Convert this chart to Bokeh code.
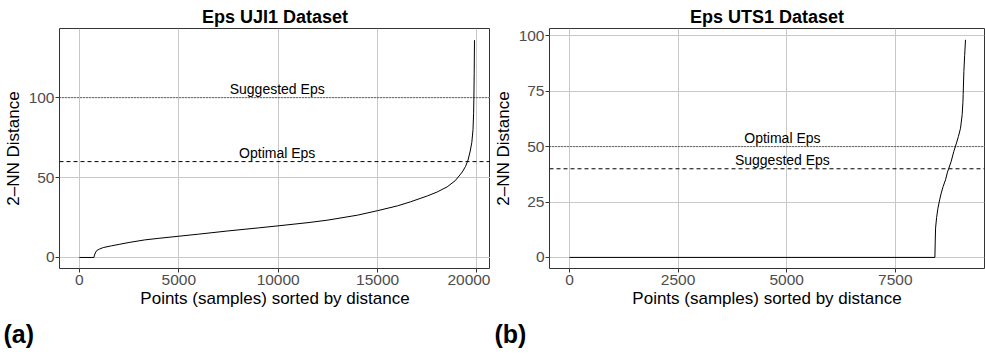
from bokeh.plotting import figure
from bokeh.layouts import row
from bokeh.models import Span, Title, FixedTicker, Range1d, ColumnDataSource
from bokeh.core.properties import value
from bokeh.embed import file_html
from bokeh.resources import INLINE

# ---------------- data ----------------
uji_x = [0, 730, 760, 800, 870, 1000, 1200, 1620, 2000, 2500, 3290, 4000, 5000, 6000,
         7470, 9000, 10000, 11500, 12500, 14000, 15000, 16000, 16650, 17500, 18000,
         18500, 18900, 19100, 19260, 19425, 19550, 19650, 19740, 19800, 19830, 19845,
         19860, 19875]
uji_y = [0, 0, 1.5, 2.8, 4.3, 5.2, 6.2, 7.3, 8.2, 9.4, 11.0, 12.0, 13.3, 14.6,
         16.6, 18.5, 19.8, 21.8, 23.4, 26.5, 29.3, 32.3, 34.8, 38.5, 41.0,
         44.2, 48, 51, 53.5, 57, 61, 66, 72, 80, 90, 100,
         115, 136]

uts_x = [0, 8410, 8418, 8426, 8450, 8480, 8520, 8556, 8600, 8655, 8700, 8732, 8785,
         8845, 8907, 8950, 9000, 9038, 9055, 9061, 9077, 9095, 9115]
uts_y = [0, 0, 7, 13.2, 18, 22.2, 26, 29, 32, 35, 38.5, 40.3, 43.3,
         47.8, 51.6, 54.5, 58.3, 64.4, 70, 73.4, 83.9, 91, 98.2]

uji_eps_names = ["Suggested Eps", "Optimal Eps"]
uji_eps_values = [100, 60]
uji_eps_dash = ["1 2", "4 3"]
uji_label_x = [9950, 9950]

uts_eps_names = ["Optimal Eps", "Suggested Eps"]
uts_eps_values = [50, 40]
uts_eps_dash = ["1 2", "4 3"]
uts_label_x = [4900, 4900]

uji_xticks = [0, 5000, 10000, 15000, 20000]
uji_yticks = [0, 50, 100]
uts_xticks = [0, 2500, 5000, 7500]
uts_yticks = [0, 25, 50, 75, 100]

FONT = "Liberation Sans"
FONT_V = value(FONT)
TAG_FONT = "'Liberation Sans Narrow', 'Liberation Sans', sans-serif"


def make_panel(title, xs, ys, names, values, dashes, label_x, xticks, yticks,
               x_range, y_range, width, tag, border_right, tag_offset):
    p = figure(width=width, height=356, output_backend="svg", toolbar_location=None,
               x_range=Range1d(*x_range), y_range=Range1d(*y_range),
               min_border_left=58, min_border_right=border_right,
               min_border_top=28, min_border_bottom=88)
    p.title.text = title
    p.title.align = "center"
    p.title.text_font = FONT
    p.title.text_font_size = "18px"
    p.title.text_font_style = "bold"
    p.title.text_color = "black"
    p.title.standoff = 4

    p.outline_line_color = "#333333"
    p.outline_line_width = 1
    p.background_fill_color = "white"
    p.border_fill_color = "white"

    p.xgrid.ticker = FixedTicker(ticks=xticks)
    p.ygrid.ticker = FixedTicker(ticks=yticks)
    p.grid.grid_line_color = "#C8C8C8"
    p.grid.grid_line_width = 1

    p.xaxis.ticker = FixedTicker(ticks=xticks)
    p.yaxis.ticker = FixedTicker(ticks=yticks)
    for ax in (p.xaxis[0], p.yaxis[0]):
        ax.axis_line_color = None
        ax.major_tick_line_color = "#333333"
        ax.major_tick_out = 4
        ax.major_tick_in = 0
        ax.minor_tick_line_color = None
        ax.major_label_text_font = FONT
        ax.major_label_text_font_size = "15.5px"
        ax.major_label_text_color = "#4D4D4D"
        ax.axis_label_text_font = FONT
        ax.axis_label_text_font_size = "17px"
        ax.axis_label_text_font_style = "normal"
        ax.axis_label_text_color = "black"
    p.xaxis.major_label_standoff = 2
    p.yaxis.major_label_standoff = 1
    p.xaxis.axis_label = "Points (samples) sorted by distance"
    p.yaxis.axis_label = "2\u2013NN Distance"
    p.xaxis.axis_label_standoff = 1
    p.yaxis.axis_label_standoff = 3

    for v, d in zip(values, dashes):
        p.add_layout(Span(location=v, dimension="width", line_color="black",
                          line_width=1, line_dash=d))

    src = ColumnDataSource(dict(x=label_x, y=values, t=names))
    p.text(x="x", y="y", text="t", source=src, text_align="center",
           text_baseline="middle", y_offset=-9, text_font=FONT_V,
           text_font_size="14px", text_color="black")

    p.line(xs, ys, line_color="black", line_width=1)

    p.add_layout(Title(text=tag, align="left", offset=tag_offset, standoff=15,
                       text_font=TAG_FONT, text_font_size="25px",
                       text_font_style="bold", text_color="black"), "below")
    return p


p1 = make_panel("Eps UJI1 Dataset", uji_x, uji_y, uji_eps_names, uji_eps_values,
                uji_eps_dash, uji_label_x, uji_xticks, uji_yticks,
                (-1000, 20680), (-6.9, 143.3), 490, "(a)", 0, -56)
p2 = make_panel("Eps UTS1 Dataset", uts_x, uts_y, uts_eps_names, uts_eps_values,
                uts_eps_dash, uts_label_x, uts_xticks, uts_yticks,
                (-460, 9552), (-5.0, 103.3), 495, "(b)", 1, -55)

layout = row(p1, p2)
open("out.html", "w").write(file_html(layout, INLINE))
